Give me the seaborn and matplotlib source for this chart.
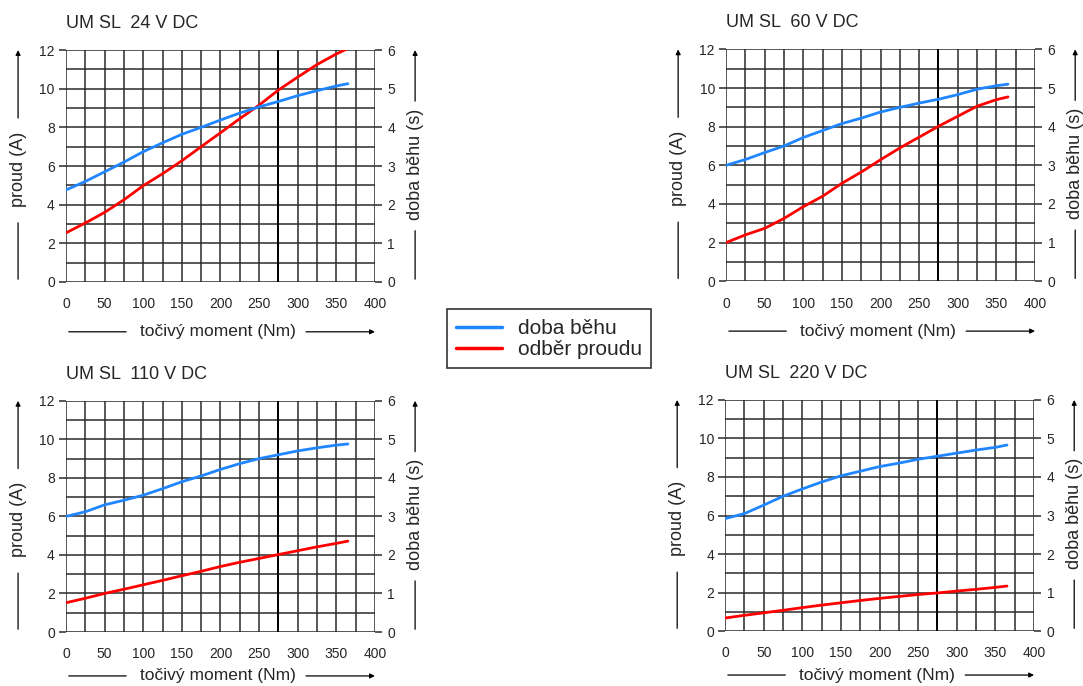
import matplotlib
matplotlib.use("Agg")
import matplotlib.pyplot as plt
import numpy as np
import pandas as pd
import seaborn as sns

# Data (torque in Nm)
torque = [0, 25, 50, 75, 100, 125, 150, 175, 200, 225, 250, 275, 300, 325, 350, 365]

titles = ["UM SL  24 V DC", "UM SL  60 V DC", "UM SL  110 V DC", "UM SL  220 V DC"]

# doba běhu (s), right axis
runtime_24 = [2.38, 2.6, 2.85, 3.1, 3.37, 3.6, 3.82, 4.0, 4.19, 4.37, 4.53, 4.67, 4.82, 4.95, 5.07, 5.13]
runtime_60 = [3.0, 3.15, 3.33, 3.5, 3.72, 3.9, 4.08, 4.22, 4.38, 4.5, 4.61, 4.71, 4.83, 4.97, 5.06, 5.1]
runtime_110 = [3.0, 3.12, 3.3, 3.42, 3.55, 3.72, 3.9, 4.05, 4.22, 4.37, 4.5, 4.6, 4.7, 4.78, 4.85, 4.88]
runtime_220 = [2.92, 3.05, 3.27, 3.5, 3.69, 3.87, 4.03, 4.15, 4.27, 4.36, 4.46, 4.54, 4.62, 4.7, 4.77, 4.83]

# odběr proudu (A), left axis
current_24 = [2.54, 3.05, 3.6, 4.25, 4.98, 5.6, 6.27, 7.0, 7.72, 8.45, 9.15, 9.93, 10.6, 11.25, 11.8, 12.08]
current_60 = [2.0, 2.4, 2.74, 3.25, 3.86, 4.4, 5.07, 5.65, 6.29, 6.9, 7.46, 8.02, 8.54, 9.06, 9.4, 9.54]
current_110 = [1.52, 1.75, 2.0, 2.22, 2.45, 2.68, 2.92, 3.15, 3.4, 3.62, 3.82, 4.02, 4.22, 4.42, 4.6, 4.72]
current_220 = [0.68, 0.82, 0.95, 1.08, 1.22, 1.35, 1.47, 1.59, 1.7, 1.8, 1.9, 1.98, 2.08, 2.17, 2.27, 2.34]

runtimes = [runtime_24, runtime_60, runtime_110, runtime_220]
currents = [current_24, current_60, current_110, current_220]

BLUE = "#1f86ff"
RED = "#ff0000"
GRID = "#2a2a2a"

sns.set_theme(style="white")
plt.rcParams["font.family"] = ["Liberation Sans", "DejaVu Sans"]

fig = plt.figure(figsize=(10.83, 6.86), dpi=100)

# axes positions in figure fractions (left, bottom, width, height)
positions = [
    (0.0609, 0.589, 0.2853, 0.338),
    (0.6704, 0.590, 0.2853, 0.338),
    (0.0609, 0.0787, 0.2853, 0.337),
    (0.6695, 0.0800, 0.2853, 0.337),
]
# x-label offset below each panel (bottom row nudged up to stay inside the image)
xlabel_y = [-0.215, -0.215, -0.19, -0.19]

for i in range(4):
    ax = fig.add_axes(positions[i])
    df = pd.DataFrame({"torque": torque, "current": currents[i], "runtime": runtimes[i]})

    ax.set_xlim(0, 400)
    ax.set_ylim(0, 12)
    ax.set_xticks(np.arange(0, 401, 50))
    ax.set_xticks(np.arange(0, 401, 25), minor=True)
    ax.set_yticks(np.arange(0, 13, 2))
    ax.set_yticks(np.arange(0, 13, 1), minor=True)
    ax.grid(True, which="both", color=GRID, lw=1.1)
    ax.set_axisbelow(True)
    for s in ax.spines.values():
        s.set_visible(False)
    ax.tick_params(axis="both", which="major", direction="out", length=5, width=1.1,
                   color=GRID, labelsize=10, pad=3)
    ax.tick_params(axis="both", which="minor", length=0)
    ax.tick_params(axis="x", pad=6)
    ax.axvline(275, color="black", lw=1.4, zorder=1)

    sns.lineplot(data=df, x="torque", y="current", ax=ax, color=RED, lw=2, zorder=4)
    ax.set_xlabel("")
    ax.set_ylabel("")

    ax2 = ax.twinx()
    ax2.set_ylim(0, 6)
    ax2.set_yticks(np.arange(0, 7, 1))
    for s in ax2.spines.values():
        s.set_visible(False)
    ax2.tick_params(axis="y", direction="out", length=5, width=1.1, color=GRID,
                    labelsize=10, pad=4)
    ax2.grid(False)
    sns.lineplot(data=df, x="torque", y="runtime", ax=ax2, color=BLUE, lw=2, zorder=5)
    ax2.set_xlabel("")
    ax2.set_ylabel("")

    ax.set_title(titles[i], loc="left", fontsize=13, pad=16, x=0.0)

    # left axis label with line + arrow
    lx = -0.155
    ax.text(lx, 0.487, "proud (A)", transform=ax.transAxes, rotation=90,
            ha="center", va="center", fontsize=13)
    ax.annotate("", xy=(lx, 0.267), xytext=(lx, 0.0), xycoords="axes fraction",
                arrowprops=dict(arrowstyle="-", color="black", lw=0.9))
    ax.annotate("", xy=(lx, 1.0), xytext=(lx, 0.707), xycoords="axes fraction",
                arrowprops=dict(arrowstyle="-|>", color="black", lw=0.9,
                                mutation_scale=7, shrinkA=0, shrinkB=0))

    # right axis label with line + arrow
    rx = 1.13
    ax.text(rx, 0.508, "doba běhu (s)", transform=ax.transAxes, rotation=90,
            ha="center", va="center", fontsize=13)
    ax.annotate("", xy=(rx, 0.233), xytext=(rx, 0.0), xycoords="axes fraction",
                arrowprops=dict(arrowstyle="-", color="black", lw=0.9))
    ax.annotate("", xy=(rx, 1.0), xytext=(rx, 0.78), xycoords="axes fraction",
                arrowprops=dict(arrowstyle="-|>", color="black", lw=0.9,
                                mutation_scale=7, shrinkA=0, shrinkB=0))

    # x axis label with line + arrow
    by = xlabel_y[i]
    ax.text(0.493, by, "točivý moment (Nm)", transform=ax.transAxes,
            ha="center", va="center", fontsize=12.5)
    ax.annotate("", xy=(0.204, by), xytext=(0.0, by), xycoords="axes fraction",
                arrowprops=dict(arrowstyle="-", color="black", lw=0.9))
    ax.annotate("", xy=(1.0, by), xytext=(0.777, by), xycoords="axes fraction",
                arrowprops=dict(arrowstyle="-|>", color="black", lw=0.9,
                                mutation_scale=7, shrinkA=0, shrinkB=0))

# shared legend in the middle
handles = [plt.Line2D([], [], color=BLUE, lw=2.5), plt.Line2D([], [], color=RED, lw=2.5)]
leg = fig.legend(handles, ["doba běhu", "odběr proudu"], loc="center",
                 bbox_to_anchor=(0.507, 0.506), fontsize=15, frameon=True,
                 fancybox=False, edgecolor="black", handlelength=2.2,
                 borderpad=0.45, labelspacing=0.1, handletextpad=0.75,
                 borderaxespad=0.0)
leg.get_frame().set_linewidth(1.2)

fig.savefig("out.png", dpi=100)
